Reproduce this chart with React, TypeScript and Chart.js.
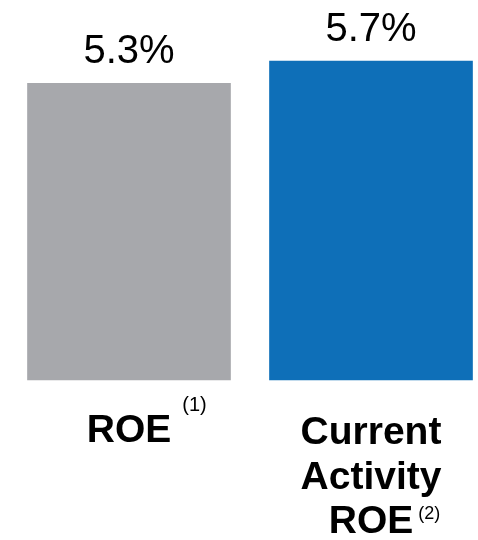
import { useEffect, useRef } from "react";
import { Chart, registerables } from "chart.js";

Chart.register(...registerables);

// Chart data
const categories = ["ROE", "Current Activity ROE"];
const categoryLines = [["ROE"], ["Current", "Activity", "ROE"]];
const footnotes = ["(1)", "(2)"];
const roeValues = [5.3, 5.7];
const valueLabels = ["5.3%", "5.7%"];
const barColors = ["#A7A8AC", "#0E6FB8"];

const FONT = '"Liberation Sans", Arial, Helvetica, sans-serif';

// Caption layout per category: first baseline below the axis, footnote size, gap and rise.
const captionStyle = [
  { firstOffset: 62, supSize: 20, supGap: 11, supRise: 31 },
  { firstOffset: 64, supSize: 18, supGap: 5, supRise: 14 },
];
const LINE_HEIGHT = 44.5;

// Draws the percentage above each bar and the bold category captions with footnote markers below.
const labelPlugin = {
  id: "roeLabels",
  afterDatasetsDraw(chart: any) {
    const { ctx, chartArea } = chart;
    const meta = chart.getDatasetMeta(0);
    ctx.save();
    ctx.fillStyle = "#000000";
    ctx.textBaseline = "alphabetic";

    meta.data.forEach((bar: any, i: number) => {
      // value label
      ctx.font = `400 40px ${FONT}`;
      ctx.textAlign = "center";
      ctx.fillText(valueLabels[i], bar.x, bar.y - 20);

      // category caption
      const style = captionStyle[i];
      const lines = categoryLines[i];
      const firstBaseline = chartArea.bottom + style.firstOffset;
      ctx.font = `700 39px ${FONT}`;
      lines.forEach((line: string, j: number) => {
        ctx.textAlign = "center";
        ctx.fillText(line, bar.x, firstBaseline + j * LINE_HEIGHT);
      });

      // footnote marker after the last line
      const lastLine = lines[lines.length - 1];
      const lastBaseline = firstBaseline + (lines.length - 1) * LINE_HEIGHT;
      const w = ctx.measureText(lastLine).width;
      ctx.font = `400 ${style.supSize}px ${FONT}`;
      ctx.textAlign = "left";
      ctx.fillText(footnotes[i], bar.x + w / 2 + style.supGap, lastBaseline - style.supRise);
    });
    ctx.restore();
  },
};

export default function App() {
  const canvasRef = useRef<HTMLCanvasElement | null>(null);

  useEffect(() => {
    if (!canvasRef.current) return;
    const chart = new Chart(canvasRef.current, {
      type: "bar",
      data: {
        labels: categories,
        datasets: [
          {
            data: roeValues,
            backgroundColor: barColors,
            borderWidth: 0,
            barThickness: 203,
            clip: false as any,
          },
        ],
      },
      options: {
        animation: false,
        responsive: true,
        maintainAspectRatio: false,
        layout: {
          padding: { left: 129, right: 107, top: 61, bottom: 160 },
        },
        plugins: {
          legend: { display: false },
          tooltip: { enabled: false },
          title: { display: false },
        },
        scales: {
          x: {
            display: false,
            offset: false,
          },
          y: {
            display: false,
            min: 0,
            max: 5.7,
          },
        },
      },
      plugins: [labelPlugin],
    });
    return () => chart.destroy();
  }, []);

  return (
    <div
      style={{
        position: "absolute",
        left: 0,
        top: 0,
        width: 478,
        height: 540,
        background: "#ffffff",
      }}
    >
      <canvas ref={canvasRef} />
    </div>
  );
}
